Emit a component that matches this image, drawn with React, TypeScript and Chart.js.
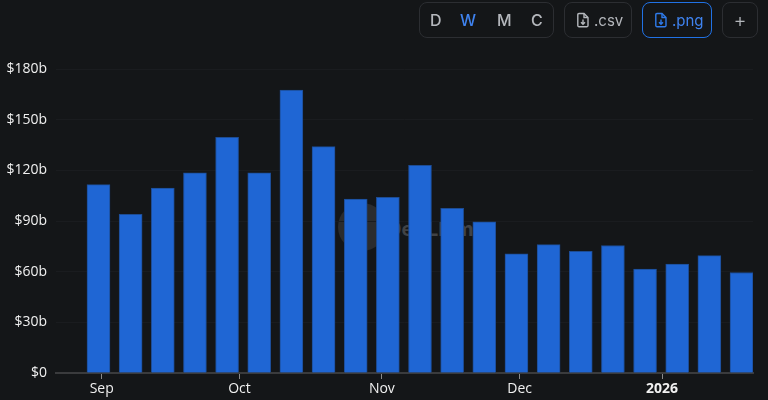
import React, { useEffect, useRef } from "react";
import { Chart, registerables } from "chart.js";

Chart.register(...registerables);

// Days since 1 Sep 2025 at which each weekly bar sits
const weekDays = [-0.7, 6.3, 13.3, 20.3, 27.3, 34.3, 41.3, 48.3, 55.3, 62.3, 69.3, 76.3, 83.3, 90.3, 97.3, 104.3, 111.3, 118.3, 125.3, 132.3, 139.3];
const volumes = [111.5, 94, 109.5, 118.5, 139.5, 118.5, 167.5, 134, 103, 104, 123, 97.5, 89.5, 70.5, 76, 72, 75.5, 61.5, 64.5, 69.5, 59.5];
const monthTickDays = [0, 30, 61, 91, 122];
const monthTickLabels = ["Sep", "Oct", "Nov", "Dec", "2026"];
const yTicks = [0, 30, 60, 90, 120, 150, 180];
const intervals = ["D", "W", "M", "C"];

const BG = "#141618";
const FONT = "'Open Sans', sans-serif";

function FileIcon({ color }: { color: string }) {
  return (
    <svg width="14" height="16" viewBox="0 0 14 16" fill="none" stroke={color} strokeWidth="1.4" style={{ display: "block" }}>
      <path d="M3 1.5h5l4 4v8a1.2 1.2 0 0 1-1.2 1.2H3A1.2 1.2 0 0 1 1.8 13.5V2.7A1.2 1.2 0 0 1 3 1.5z" />
      <path d="M8 1.5v4h4" />
      <path d="M7 7.5v4.5M5 10.2l2 2 2-2" />
    </svg>
  );
}

const box: React.CSSProperties = {
  position: "absolute",
  top: 2,
  height: 36,
  boxSizing: "border-box",
  border: "1px solid #2c2e32",
  borderRadius: 8,
  display: "flex",
  alignItems: "center",
  fontFamily: "Inter, sans-serif",
  fontSize: 15,
  color: "#b4b7bc",
};

export default function App() {
  const ref = useRef<HTMLCanvasElement>(null);
  useEffect(() => {
    document.body.style.margin = "0";
    document.body.style.background = BG;
    const chart = new Chart(ref.current!, {
      type: "bar",
      data: {
        datasets: [
          {
            data: weekDays.map((d, i) => ({ x: d, y: volumes[i] })),
            backgroundColor: "#1f66d4",
            borderColor: "#1d4c94",
            borderWidth: 1,
            barThickness: 23,
          },
        ],
      },
      options: {
        animation: false,
        responsive: false,
        layout: { padding: { top: 69, right: 15, left: 0, bottom: 0 } },
        plugins: { legend: { display: false }, tooltip: { enabled: false } },
        scales: {
          x: {
            type: "linear",
            offset: false,
            min: -9.95,
            max: 141.8,
            afterBuildTicks: (s: any) => {
              s.ticks = monthTickDays.map((v) => ({ value: v }));
            },
            afterFit: (s: any) => {
              s.height = 27;
            },
            grid: { offset: false, drawOnChartArea: false, drawTicks: true, tickLength: 6, tickColor: "#8a8a8a", tickWidth: 1 },
            border: { color: "#3a3b3d", width: 2 },
            ticks: {
              autoSkip: false,
              maxRotation: 0,
              padding: 2,
              color: "#f0f0f0",
              font: (c: any) => ({
                family: FONT,
                size: 14,
                weight: c.index === 4 ? "bold" : "normal",
              }),
              callback: (_v: any, i: number) => monthTickLabels[i],
            },
          },
          y: {
            min: 0,
            max: 180,
            afterBuildTicks: (s: any) => {
              s.ticks = yTicks.map((v) => ({ value: v }));
            },
            afterFit: (s: any) => {
              s.width = 56;
            },
            grid: { color: "#1a1c1f", drawTicks: false },
            border: { display: false },
            ticks: {
              padding: 9,
              color: "#f0f0f0",
              font: { family: FONT, size: 14 },
              callback: (v: any) => (v === 0 ? "$0" : `$${v}b`),
            },
          },
        },
      },
    } as any);
    return () => chart.destroy();
  }, []);

  return (
    <div style={{ position: "absolute", left: 0, top: 0, width: 768, height: 400, background: BG, overflow: "hidden" }}>
      {/* watermark behind the transparent canvas */}
      <div style={{ position: "absolute", left: 338, top: 203, width: 48, height: 48, borderRadius: 24, background: "#2b2c2e" }} />
      <div style={{ position: "absolute", left: 387, top: 214, fontFamily: "Inter, sans-serif", fontWeight: 700, fontSize: 20, lineHeight: "30px", color: "#414346" }}>
        DefiLlama
      </div>
      <canvas ref={ref} width={768} height={400} style={{ position: "absolute", left: 0, top: 0, display: "block" }} />

      <div style={{ ...box, left: 419, width: 135 }}>
        {intervals.map((t, i) => (
          <span key={t} style={{ position: "absolute", left: [10, 40, 77, 111][i], fontSize: 16, fontWeight: 500, color: t === "W" ? "#3f83f0" : "#b4b7bc" }}>
            {t}
          </span>
        ))}
      </div>
      <div style={{ ...box, left: 564, width: 68, paddingLeft: 11, gap: 4 }}>
        <FileIcon color="#b4b7bc" />
        <span>.csv</span>
      </div>
      <div style={{ ...box, left: 642, width: 70, paddingLeft: 11, gap: 4, border: "1px solid #2172e5", color: "#3f83f0" }}>
        <FileIcon color="#2f7bea" />
        <span>.png</span>
      </div>
      <div style={{ ...box, left: 722, width: 36, justifyContent: "center", fontSize: 20, fontWeight: 300 }}>+</div>
    </div>
  );
}
